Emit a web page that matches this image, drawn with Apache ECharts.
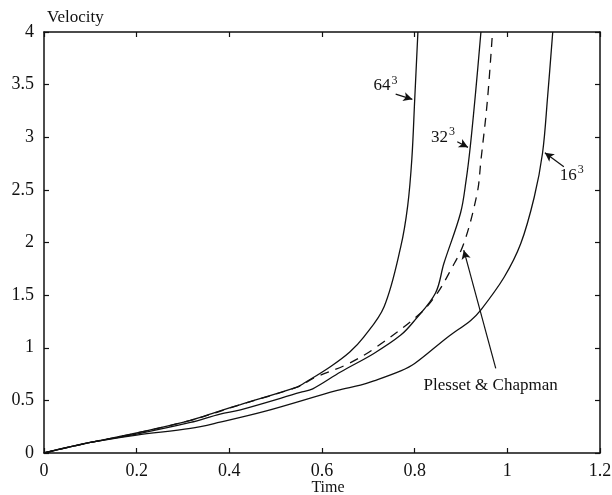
<!DOCTYPE html>
<html>
<head>
<meta charset="utf-8">
<script src="https://cdn.jsdelivr.net/npm/echarts@6/dist/echarts.min.js"></script>
<style>html,body{margin:0;padding:0;background:#fff}#c{width:612px;height:495px}</style>
</head>
<body>
<div id="c"></div>
<script>
// ---- data ----
const xs16 = [0, 0.1, 0.2, 0.316, 0.38, 0.48, 0.633, 0.683, 0.712, 0.77, 0.80, 0.871, 0.921, 0.943, 0.993, 1.029, 1.058, 1.076, 1.087, 1.098];
const ys16 = [0, 0.10, 0.17, 0.233, 0.293, 0.40, 0.595, 0.645, 0.685, 0.78, 0.85, 1.10, 1.26, 1.36, 1.67, 1.99, 2.43, 2.85, 3.39, 4.0];

const xs32 = [0, 0.1, 0.2, 0.316, 0.38, 0.424, 0.553, 0.58, 0.64, 0.712, 0.77, 0.80, 0.845, 0.863, 0.899, 0.911, 0.920, 0.932, 0.943];
const ys32 = [0, 0.10, 0.18, 0.29, 0.37, 0.41, 0.575, 0.61, 0.77, 0.946, 1.12, 1.26, 1.52, 1.80, 2.28, 2.59, 2.91, 3.45, 4.0];

const xs64 = [0, 0.1, 0.2, 0.316, 0.38, 0.424, 0.546, 0.56, 0.618, 0.66, 0.69, 0.734, 0.77, 0.785, 0.794, 0.800, 0.807];
const ys64 = [0, 0.10, 0.19, 0.31, 0.40, 0.46, 0.626, 0.66, 0.82, 0.96, 1.10, 1.39, 1.96, 2.35, 2.80, 3.35, 4.0];

const xsPC = [0, 0.1, 0.2, 0.316, 0.424, 0.546, 0.586, 0.653, 0.712, 0.813, 0.849, 0.878, 0.906, 0.935, 0.943, 0.957, 0.968];
const ysPC = [0, 0.10, 0.19, 0.31, 0.46, 0.626, 0.72, 0.84, 0.99, 1.33, 1.52, 1.74, 1.99, 2.47, 2.78, 3.35, 4.0];

const xTicks = [0, 0.2, 0.4, 0.6, 0.8, 1, 1.2];
const yTicks = [0, 0.5, 1, 1.5, 2, 2.5, 3, 3.5, 4];

// annotations (data coordinates)
const labels = [
  {name: '64', x: 0.737, y: 3.49},
  {name: '32', x: 0.861, y: 3.00},
  {name: '16', x: 1.139, y: 2.64}
];
const pcLabel = {name: 'Plesset & Chapman', x: 0.964, y: 0.642};
const arrows = [
  [[0.759, 3.41], [0.795, 3.36]],
  [[0.892, 2.957], [0.915, 2.904]],
  [[1.122, 2.72], [1.081, 2.853]],
  [[0.975, 0.804], [0.906, 1.927]]
];

const zip = (a, b) => a.map((v, i) => [v, b[i]]);
const FONT = 'Liberation Serif';
const INK = '#111';

function mkSeries(name, xs, ys, dashed) {
  return {
    name, type: 'line', data: zip(xs, ys), showSymbol: false, symbol: 'none',
    smooth: 0.35,
    lineStyle: dashed ? {color: INK, width: 1.3, type: [9, 7]} : {color: INK, width: 1.3},
    silent: true, clip: true, z: 3
  };
}

function axisBase(extra) {
  return Object.assign({
    type: 'value', min: 0,
    axisLine: {show: true, onZero: false, lineStyle: {color: INK, width: 1.5}},
    axisTick: {show: true, inside: true, length: 5, lineStyle: {color: INK, width: 1.2}},
    splitLine: {show: false}
  }, extra);
}
const tickFmt = list => v => { const t = list.find(k => Math.abs(k - v) < 1e-9); return t === undefined ? '' : String(t); };

const option = {
  animation: false,
  backgroundColor: '#fff',
  grid: {left: 44, right: 12, top: 32, bottom: 42, containLabel: false, outerBoundsMode: 'none'},
  xAxis: [
    axisBase({
      max: 1.2, interval: 0.2, position: 'bottom',
      axisLabel: {color: INK, fontFamily: FONT, fontSize: 18, margin: 9, formatter: tickFmt(xTicks)},
      name: 'Time', nameLocation: 'middle', nameGap: 27, nameMoveOverlap: false,
      nameTextStyle: {color: INK, fontFamily: FONT, fontSize: 16, lineHeight: 16, padding: [0, 0, 0, 12]}
    }),
    axisBase({max: 1.2, interval: 0.2, position: 'top', axisLabel: {show: false}})
  ],
  yAxis: [
    axisBase({
      max: 4, interval: 0.5, position: 'left',
      axisLabel: {color: INK, fontFamily: FONT, fontSize: 18, margin: 10, formatter: tickFmt(yTicks)},
      name: 'Velocity', nameLocation: 'end', nameGap: 6, nameMoveOverlap: false,
      nameTextStyle: {color: INK, fontFamily: FONT, fontSize: 17, align: 'left', padding: [0, 0, 0, 3]}
    }),
    axisBase({max: 4, interval: 0.5, position: 'right', axisLabel: {show: false}})
  ],
  series: [
    mkSeries('16^3', xs16, ys16, false),
    mkSeries('32^3', xs32, ys32, false),
    mkSeries('64^3', xs64, ys64, false),
    Object.assign(mkSeries('Plesset & Chapman', xsPC, ysPC, true), {
      markLine: {
        silent: true, animation: false,
        symbol: ['none', 'arrow'], symbolSize: [7, 9],
        label: {show: false},
        lineStyle: {color: INK, width: 1.2, type: 'solid'},
        data: arrows.map(a => [{coord: a[0]}, {coord: a[1]}])
      },
      markPoint: {
        silent: true, animation: false,
        symbol: 'circle', symbolSize: 1, itemStyle: {color: 'rgba(0,0,0,0)'},
        data: labels.map(l => ({
          coord: [l.x, l.y],
          label: {show: true, position: 'inside', formatter: '{b|' + l.name + '}{s|3}',
            rich: {b: {fontFamily: FONT, fontSize: 17, color: INK}, s: {fontFamily: FONT, fontSize: 12, color: INK, verticalAlign: 'top', padding: [0, 0, 10, 1]}}}
        })).concat([{
          coord: [pcLabel.x, pcLabel.y],
          label: {show: true, position: 'inside', formatter: pcLabel.name, fontFamily: FONT, fontSize: 17, color: INK}
        }])
      }
    })
  ]
};

const chart = echarts.init(document.getElementById('c'), null, {renderer: 'canvas'});
chart.setOption(option);
</script>
</body>
</html>
